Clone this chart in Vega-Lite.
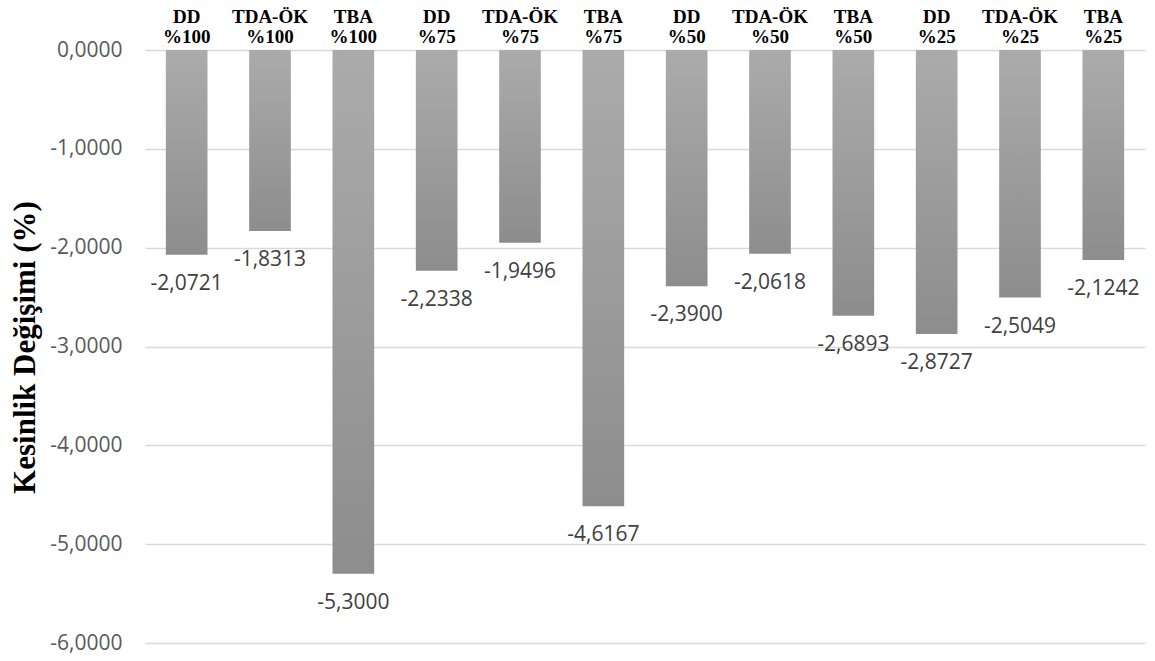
{
  "$schema": "https://vega.github.io/schema/vega-lite/v6.json",
  "width": 1000,
  "height": 593,
  "autosize": "none",
  "padding": {"left": 145, "top": 50, "right": 10, "bottom": 18},
  "background": "white",
  "config": {
    "view": {"stroke": null},
    "locale": {"number": {"decimal": ",", "thousands": ".", "grouping": [3], "currency": ["", " TL"], "minus": "-"}}
  },
  "data": {
    "values": [
      {"cat": "DD %100", "value": -2.0721},
      {"cat": "TDA-ÖK %100", "value": -1.8313},
      {"cat": "TBA %100", "value": -5.3},
      {"cat": "DD %75", "value": -2.2338},
      {"cat": "TDA-ÖK %75", "value": -1.9496},
      {"cat": "TBA %75", "value": -4.6167},
      {"cat": "DD %50", "value": -2.39},
      {"cat": "TDA-ÖK %50", "value": -2.0618},
      {"cat": "TBA %50", "value": -2.6893},
      {"cat": "DD %25", "value": -2.8727},
      {"cat": "TDA-ÖK %25", "value": -2.5049},
      {"cat": "TBA %25", "value": -2.1242}
    ]
  },
  "layer": [
    {
      "mark": {
        "type": "bar",
        "color": {
          "gradient": "linear", "x1": 0, "y1": 0, "x2": 0, "y2": 1,
          "stops": [{"offset": 0, "color": "#ababab"}, {"offset": 1, "color": "#8d8d8d"}]
        }
      },
      "encoding": {
        "x": {
          "field": "cat", "type": "nominal", "sort": null,
          "scale": {"paddingInner": 0.5, "paddingOuter": 0.25},
          "axis": {
            "orient": "top", "title": null, "labelAngle": 0, "domain": false, "ticks": false,
            "labelFont": "Liberation Serif", "labelFontWeight": "bold", "labelFontSize": 19,
            "labelColor": "#000000", "labelLineHeight": 20, "labelBaseline": "alphabetic",
            "labelPadding": 28, "labelExpr": "split(datum.label, ' ')"
          }
        },
        "y": {
          "field": "value", "type": "quantitative",
          "scale": {"domain": [-6, 0], "nice": false},
          "axis": {
            "values": [0, -1, -2, -3, -4, -5, -6], "format": ".4f",
            "labelFont": "Open Sans", "labelFontSize": 21, "labelColor": "#595959", "labelPadding": 23,
            "grid": true, "gridColor": "#d9d9d9", "gridWidth": 1.5, "domain": false, "ticks": false,
            "title": "Kesinlik Değişimi (%)", "titleFont": "Liberation Serif", "titleFontSize": 31,
            "titleFontWeight": "bold", "titleColor": "#000000", "titleX": -120, "titleY": 297,
            "titleAngle": 270, "titleAlign": "center", "titleBaseline": "middle"
          }
        }
      }
    },
    {
      "mark": {"type": "text", "dy": 29, "baseline": "middle", "align": "center", "fontSize": 21, "font": "Open Sans", "color": "#404040"},
      "encoding": {
        "x": {"field": "cat", "type": "nominal", "sort": null},
        "y": {"field": "value", "type": "quantitative"},
        "text": {"field": "value", "type": "quantitative", "format": ".4f"}
      }
    }
  ]
}
